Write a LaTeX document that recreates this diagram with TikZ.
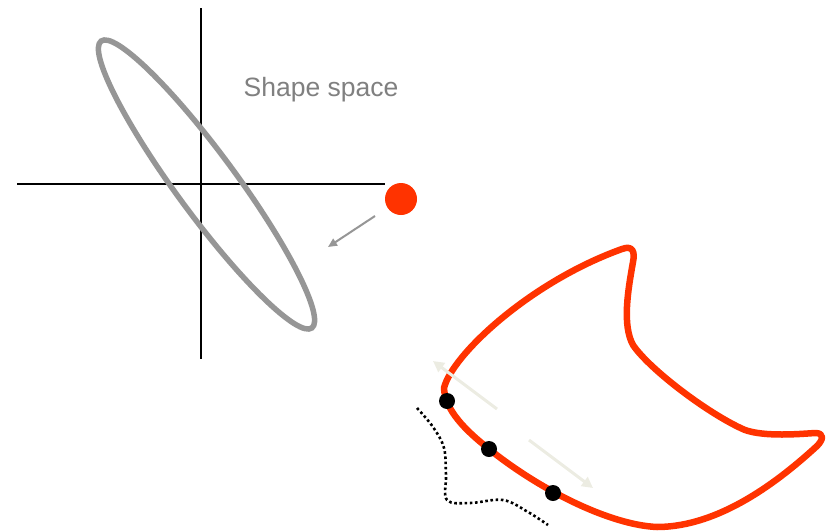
\documentclass[tikz,border=0pt]{standalone}
\usepackage{fontspec}
\setmainfont{Liberation Sans}
\usetikzlibrary{arrows.meta}
\definecolor{shapered}{RGB}{255,51,0}
\definecolor{ellgray}{RGB}{150,150,150}
\definecolor{txtgray}{RGB}{128,128,128}
\definecolor{faint}{RGB}{236,236,226}
\tikzset{
  axis/.style={line width=1.6pt, black},
  samplept/.style={circle, fill=black, inner sep=0pt, minimum size=16pt},
  tangarrow/.style={line width=3pt, faint, -{Triangle[length=11pt,width=11pt]}},
}
\begin{document}
\begin{tikzpicture}[x=1pt,y=-1pt]
\useasboundingbox (0,0) rectangle (827,530);
% axes
\coordinate (xl) at (17,184);
\coordinate (xr) at (385,184);
\coordinate (yt) at (201,8);
\coordinate (yb) at (201,359);
\draw[axis] (xl) -- (xr);
\draw[axis] (yt) -- (yb);
% ellipse
\draw[ellgray, line width=5.5pt, rotate around={-53.7:(206.5,184.5)}] (206.5,184.5) ellipse [x radius=178, y radius=30];
% label
\node[txtgray, font=\fontsize{26.5}{30}\selectfont, anchor=base] (lbl) at (321,96) {Shape space};
% red point and arrow
\node[circle, fill=shapered, inner sep=0pt, minimum size=32pt] (rp) at (401,199) {};
\coordinate (as) at (375,216);
\coordinate (ae) at (328,247);
\draw[ellgray, line width=2pt, -{Triangle[length=9pt,width=8pt]}] (as) -- (ae);
% red shape
\draw[shapered, line width=6.5pt, line join=round]
  (444,388) .. controls (452,355) and (530,282) .. (622,249)
  .. controls (633,245) and (635,252) .. (633,262)
  .. controls (628,290) and (622,325) .. (633,345)
  .. controls (650,370) and (710,415) .. (745,430)
  .. controls (765,437) and (800,434) .. (815,433)
  .. controls (825,433) and (823,440) .. (817,446)
  .. controls (780,480) and (720,527) .. (657,527)
  .. controls (610,525) and (540,490) .. (489,449)
  .. controls (465,430) and (445,410) .. cycle;
% tangent arrows
\coordinate (t1s) at (497,409);
\coordinate (t1e) at (433,361);
\coordinate (t2s) at (529,440);
\coordinate (t2e) at (593,488);
\draw[tangarrow] (t1s) -- (t1e);
\draw[tangarrow] (t2s) -- (t2e);
% sample points
\node[samplept] (p1) at (447,401) {};
\node[samplept] (p2) at (489,449) {};
\node[samplept] (p3) at (553,493) {};
% dotted curve
\draw[black, line width=2.6pt, dash pattern=on 2.6pt off 2.6pt] plot[smooth, tension=0.6] coordinates {
 (417,408) (433,427) (444,448) (446,475) (447,500) (470,503) (503,500) (528,512) (548,525)};
\end{tikzpicture}
\end{document}
